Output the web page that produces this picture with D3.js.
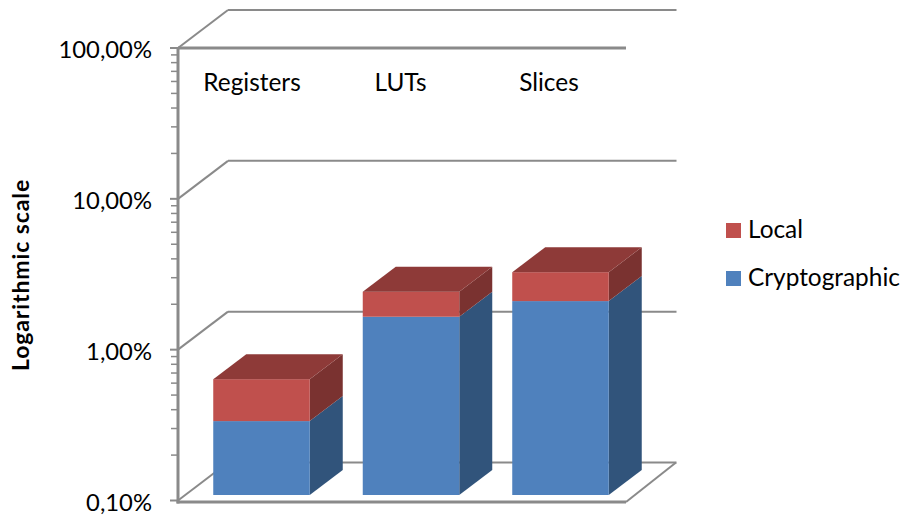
<!DOCTYPE html>
<html>
<head>
<meta charset="utf-8">
<script src="https://cdn.jsdelivr.net/npm/d3@7"></script>
<style>
html,body{margin:0;padding:0;background:#fff}
text{font-family:Lato,"Open Sans",sans-serif;fill:#000}
</style>
</head>
<body>
<svg id="chart" width="902" height="515"></svg>
<script>
const categories = ["Registers", "LUTs", "Slices"];
const cryptographic = [0.309, 1.52, 1.93];
const local = [0.277, 0.71, 1.07];
const seriesNames = ["Cryptographic", "Local"];
const yTicks = [0.1, 1, 10, 100];
const yTickLabels = ["0,10%", "1,00%", "10,00%", "100,00%"];
const minorFactors = [2, 3, 4, 5, 6, 7, 8, 9];

const svg = d3.select("#chart");
const axisGrey = "#8a8a8a";

// Front plane of the box and the oblique projection into depth
const y = d3.scaleLog().domain([0.1, 100]).range([500.5, 48]);
const left = 178, right = 626;
const depth = {dx: 50, dy: -38};
const barInset = {dx: 9, dy: -5.5};
const barDepth = {dx: 33, dy: -25};

const x = d3.scaleBand().domain(categories)
  .range([left + barInset.dx, right + barInset.dx])
  .paddingInner(0.3545).paddingOuter(0.1756);
const xCenter = d3.scalePoint().domain(categories).range([252, 549]);

const line = (g, x1, y1, x2, y2, w) => g.append("line")
  .attr("x1", x1).attr("y1", y1).attr("x2", x2).attr("y2", y2)
  .attr("stroke", axisGrey).attr("stroke-width", w);

// Walls: back gridlines and the slanted links to the value axis
const walls = svg.append("g");
yTicks.forEach(t => {
  const yy = y(t);
  line(walls, left, yy, left + depth.dx, yy + depth.dy, 2);
  line(walls, left + depth.dx, yy + depth.dy, right + depth.dx + 0.5, yy + depth.dy, 2);
});
line(walls, left, y(100), right, y(100), 3);
line(walls, right, y(0.1) + 1.5, right + depth.dx, y(0.1) + depth.dy, 2);
line(walls, left - 1.5, y(0.1) + 1.5, right, y(0.1) + 1.5, 3);
line(walls, left, y(100) - 1, left, y(0.1) + 3, 3);

// Value axis ticks, major and minor
const ticks = svg.append("g");
yTicks.forEach((t, i) => {
  line(ticks, left - 8, y(t), left, y(t), 2);
  if (i < yTicks.length - 1) {
    minorFactors.forEach(f => line(ticks, left - 7, y(t * f), left, y(t * f), 1.5));
  }
});
svg.append("g").selectAll("text").data(yTickLabels).join("text")
  .attr("x", 152)
  .attr("y", (d, i) => y(yTicks[i]) + 10)
  .attr("text-anchor", "end")
  .attr("font-size", 23.8)
  .text(d => d);

// Stacked 3D columns
const palette = {
  Cryptographic: {front: "#4f81bd", side: "#31547b", top: "#3f6797"},
  Local: {front: "#c0504d", side: "#7a3230", top: "#8e3a38"}
};
const barsG = svg.append("g");
const pts = a => a.map(p => p.join(",")).join(" ");
categories.forEach((c, i) => {
  const x0 = x(c), x1 = x0 + x.bandwidth();
  const segments = [
    {name: seriesNames[0], lo: 0.1, hi: cryptographic[i]},
    {name: seriesNames[1], lo: cryptographic[i], hi: cryptographic[i] + local[i]}
  ];
  segments.forEach(s => {
    const yLo = y(s.lo) + barInset.dy, yHi = y(s.hi) + barInset.dy;
    const col = palette[s.name];
    barsG.append("polygon").attr("fill", col.side).attr("points", pts([
      [x1, yLo], [x1 + barDepth.dx, yLo + barDepth.dy],
      [x1 + barDepth.dx, yHi + barDepth.dy], [x1, yHi]]));
    barsG.append("rect").attr("fill", col.front)
      .attr("x", x0).attr("y", yHi).attr("width", x1 - x0).attr("height", yLo - yHi);
    if (s.name === seriesNames[1]) {
      barsG.append("polygon").attr("fill", col.top).attr("points", pts([
        [x0, yHi], [x1, yHi],
        [x1 + barDepth.dx, yHi + barDepth.dy], [x0 + barDepth.dx, yHi + barDepth.dy]]));
    }
  });
});

// Category names sit at the top of the plot
svg.append("g").selectAll("text").data(categories).join("text")
  .attr("x", d => xCenter(d))
  .attr("y", 91)
  .attr("text-anchor", "middle")
  .attr("font-size", 24.4)
  .text(d => d);

// Axis title
svg.append("text")
  .attr("transform", "translate(29,275) rotate(-90)")
  .attr("text-anchor", "middle")
  .attr("font-size", 23)
  .attr("font-weight", 700)
  .attr("letter-spacing", 0.9)
  .text("Logarithmic scale");

// Legend, topmost stack first
const legendRow = d3.scalePoint().domain(["Local", "Cryptographic"]).range([230.5, 278.5]);
const legend = svg.append("g").selectAll("g").data(legendRow.domain()).join("g");
legend.append("rect")
  .attr("x", 726).attr("y", d => legendRow(d) - 7.5)
  .attr("width", 15).attr("height", 15)
  .attr("fill", d => palette[d].front);
legend.append("text")
  .attr("x", 748).attr("y", d => legendRow(d) + 7.5)
  .attr("font-size", 24.4)
  .text(d => d);
</script>
</body>
</html>
